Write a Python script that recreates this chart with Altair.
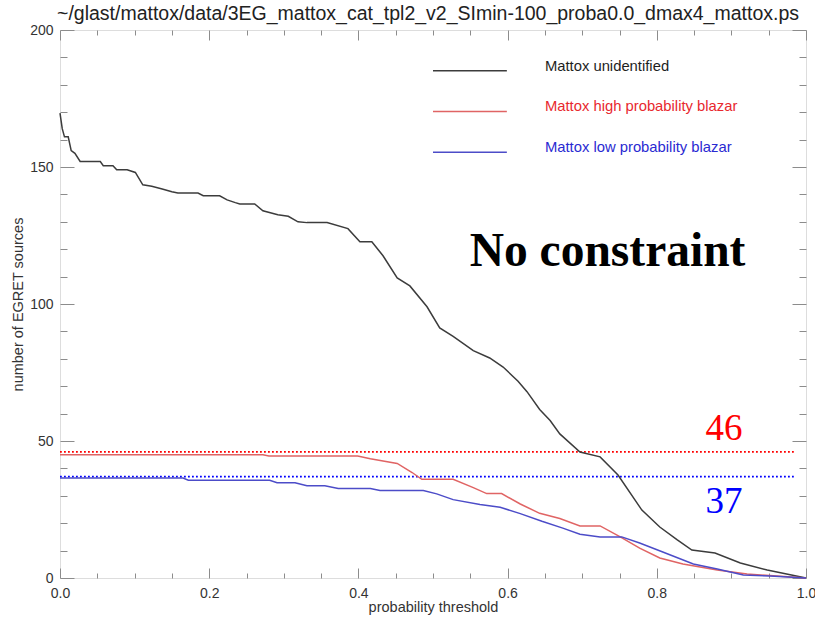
import altair as alt
import pandas as pd

# Number of remaining EGRET sources versus probability threshold, per Mattox class
unid_p = [0.0, 0.003, 0.006, 0.011, 0.015, 0.020, 0.027, 0.054, 0.058, 0.071, 0.076, 0.090,
          0.101, 0.111, 0.123, 0.137, 0.150, 0.158, 0.185, 0.192, 0.214, 0.224, 0.235, 0.241,
          0.261, 0.272, 0.292, 0.306, 0.319, 0.331, 0.358, 0.386, 0.402, 0.418, 0.433, 0.452,
          0.469, 0.492, 0.509, 0.527, 0.554, 0.576, 0.594, 0.614, 0.626, 0.643, 0.657, 0.670,
          0.697, 0.724, 0.748, 0.780, 0.804, 0.827, 0.847, 0.878, 0.912, 0.948, 1.0]
unid_n = [169.7, 164, 161, 161, 156, 155, 152, 152, 150.5, 150.5, 149, 149,
          148, 143.5, 143, 142, 141, 140.5, 140.5, 139.5, 139.5, 138, 137, 136.5,
          136.5, 134, 132.6, 132, 130, 129.7, 129.7, 127.5, 122.7, 122.7, 117.6, 109.5,
          106.6, 99, 91.3, 88.2, 83, 80.3, 77, 71.8, 68, 61.5, 57.5, 52.6,
          46, 44.2, 37.6, 24.8, 18.6, 14, 10.2, 9.1, 5.5, 2.9, 0]

high_p = [0.0, 0.272, 0.280, 0.399, 0.416, 0.452, 0.472, 0.485, 0.527, 0.554, 0.572, 0.592,
          0.617, 0.643, 0.670, 0.697, 0.724, 0.751, 0.777, 0.804, 0.835, 0.881, 0.921, 0.961, 1.0]
high_n = [45, 45, 44.5, 44.5, 43.5, 41.8, 38.5, 36, 36, 33, 30.8, 30.8,
          27, 23.6, 21.7, 19, 19, 15, 10.9, 7.3, 5.1, 2.9, 1.5, 0.7, 0]

low_p = [0.0, 0.165, 0.172, 0.281, 0.291, 0.315, 0.331, 0.355, 0.373, 0.416, 0.429, 0.487,
         0.505, 0.527, 0.563, 0.590, 0.617, 0.646, 0.674, 0.697, 0.724, 0.753, 0.777, 0.808,
         0.849, 0.881, 0.916, 0.952, 1.0]
low_n = [36.5, 36.5, 35.7, 35.7, 34.8, 34.8, 33.7, 33.7, 32.7, 32.7, 31.9, 31.9,
         30.7, 28.6, 26.8, 25.8, 23.5, 20.7, 18.2, 16, 15, 15, 12.8, 9.5,
         5.1, 3.3, 1.1, 0.7, 0]

# Blazar counts with no constraint on the threshold
ref_counts = [46, 37]
ref_labels = ["46", "37"]
ref_colors = ["#ff0000", "#0000ff"]

legend_labels = ["Mattox unidentified", "Mattox high probability blazar",
                 "Mattox low probability blazar"]
line_colors = ["#3c3c3c", "#e06464", "#4c4cc8"]
legend_text_colors = ["#1e1e1e", "#e8282e", "#2a2ad2"]

TITLE = "~/glast/mattox/data/3EG_mattox_cat_tpl2_v2_SImin-100_proba0.0_dmax4_mattox.ps"
NOTE = "No constraint"

SANS = "Liberation Sans"
SERIF = "Liberation Serif"
FRAME = "#8c8c8c"
INK = "#333333"

W, H = 746, 548

xs = alt.Scale(domain=[0, 1], nice=False, zero=False)
ys = alt.Scale(domain=[0, 200], nice=False, zero=False)

x_major = [round(0.2 * k, 1) for k in range(6)]
x_minor = [round(0.05 * k, 2) for k in range(21) if k % 4]
y_major = [50 * k for k in range(5)]
y_minor = [10 * k for k in range(21) if k % 5]


def axis(orient, values, size, labels=False, title=None, fmt="d", pad=0, tpad=0):
    """Box-style axis with ticks pointing into the plot."""
    kw = dict(orient=orient, values=values, tickSize=size, offset=-size, domain=False,
              grid=False, ticks=True, tickColor=FRAME, tickWidth=1, labels=labels,
              title=title)
    if labels:
        kw.update(labelFont=SANS, labelFontSize=14, labelColor=INK, labelFlush=False,
                  labelPadding=pad, format=fmt, labelOverlap=False)
    if title:
        kw.update(titleFont=SANS, titleFontSize=14.5, titleFontWeight="normal",
                  titleColor=INK, titlePadding=tpad)
    return alt.Axis(**kw)


def curve(p, n, color, xaxis, yaxis):
    df = pd.DataFrame({"p": p, "n": n})
    return alt.Chart(df).mark_line(color=color, strokeWidth=1.5).encode(
        x=alt.X("p:Q", scale=xs, axis=xaxis),
        y=alt.Y("n:Q", scale=ys, axis=yaxis),
    )


unid = curve(unid_p, unid_n, line_colors[0],
             axis("bottom", x_major, 10, labels=True, title="probability threshold",
                  fmt=".1f", pad=8.5, tpad=0),
             axis("left", y_major, 14, labels=True, title="number of EGRET sources",
                  fmt="d", pad=7, tpad=4))
high = curve(high_p, high_n, line_colors[1],
             axis("bottom", x_minor, 5), axis("left", y_minor, 7))
low = curve(low_p, low_n, line_colors[2],
            axis("top", x_major, 10), axis("right", y_major, 14))

ref_df = pd.DataFrame({"n": ref_counts, "label": ref_labels, "c": ref_colors})
ref_lines = alt.Chart(ref_df).mark_rule(strokeWidth=1.8, strokeDash=[1.8, 2.2]).encode(
    x=alt.X(datum=0, scale=xs, axis=None),
    x2=alt.X2(datum=0.986),
    y=alt.Y("n:Q", scale=ys, axis=None),
    color=alt.Color("c:N", scale=None),
)

# count labels sit just right of the curves, above and below their dotted lines
ref_text = alt.Chart(ref_df).transform_calculate(
    tx="0.89",
    ty="datum.n == 46 ? 50.4 : 23.8",
).mark_text(font=SERIF, fontSize=37, align="center", baseline="alphabetic").encode(
    x=alt.X("tx:Q", scale=xs, axis=None),
    y=alt.Y("ty:Q", scale=ys, axis=None),
    text="label:N",
    color=alt.Color("c:N", scale=None),
)

note_df = pd.DataFrame({"t": [NOTE]})
note = alt.Chart(note_df).transform_calculate(tx="0.734", ty="114").mark_text(
    font=SERIF, fontSize=47.5, fontWeight="bold", align="center", baseline="alphabetic",
    color="#000000",
).encode(
    x=alt.X("tx:Q", scale=xs, axis=axis("top", x_minor, 5)),
    y=alt.Y("ty:Q", scale=ys, axis=axis("right", y_minor, 7)),
    text="t:N",
)

leg_df = pd.DataFrame({"label": legend_labels, "lc": line_colors,
                       "tc": legend_text_colors, "i": range(len(legend_labels))})
leg_base = alt.Chart(leg_df).transform_calculate(
    ly="185.1 - 14.85 * datum.i",
    ty="186.6 - 14.85 * datum.i",
    x0="0.5", x1="0.599", xt="0.65",
)
leg_lines = leg_base.mark_rule(strokeWidth=1.5).encode(
    x=alt.X("x0:Q", scale=xs, axis=None),
    x2="x1:Q",
    y=alt.Y("ly:Q", scale=ys, axis=None),
    color=alt.Color("lc:N", scale=None),
)
leg_text = leg_base.mark_text(font=SANS, fontSize=14.8, align="left", baseline="middle").encode(
    x=alt.X("xt:Q", scale=xs, axis=None),
    y=alt.Y("ty:Q", scale=ys, axis=None),
    text="label:N",
    color=alt.Color("tc:N", scale=None),
)

chart = alt.layer(
    ref_lines, unid, high, low, ref_text, note, leg_lines, leg_text
).resolve_axis(x="independent", y="independent").properties(
    width=W, height=H,
    autosize="none",
    padding={"left": 60, "top": 30, "right": 9, "bottom": 43},
    title=alt.TitleParams(TITLE, font=SANS, fontSize=19.5, fontWeight="normal",
                          color="#222222", anchor="middle", frame="group",
                          offset=-1, dx=-5),
).configure_view(stroke=FRAME, strokeWidth=1).configure(background="white")

chart.save("out.html", embed_options={"renderer": "svg", "actions": False})
